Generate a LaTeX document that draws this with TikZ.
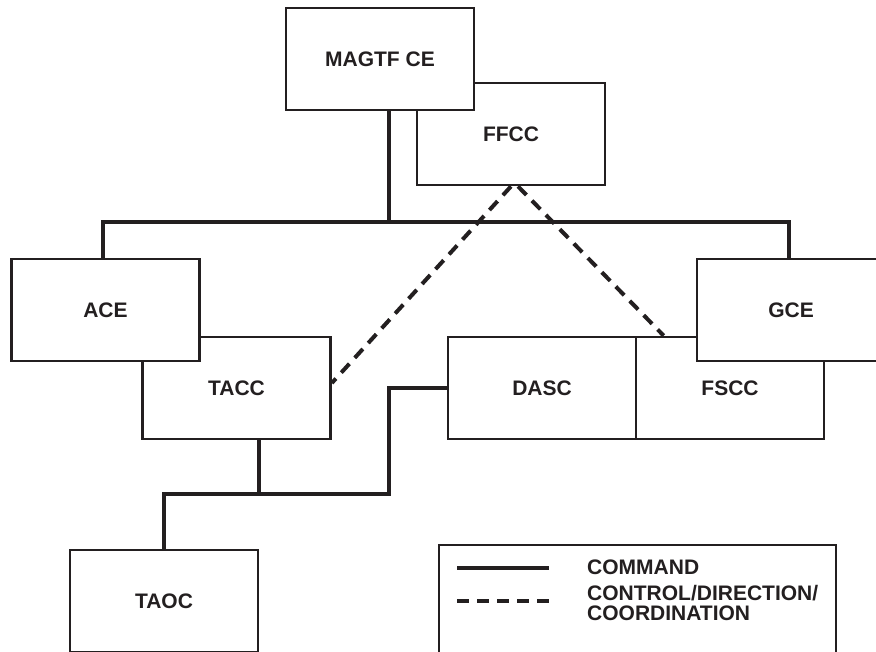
\documentclass[tikz,border=0pt]{standalone}
\usepackage{fontspec}
\setmainfont{Liberation Sans}
\usetikzlibrary{calc}
\definecolor{ink}{RGB}{35,31,32}
\begin{document}
\begin{tikzpicture}[x=1pt,y=-1pt,
  box/.style={draw=ink, fill=white, line width=2.7pt, rectangle,
    minimum width=188pt, minimum height=102pt, inner sep=0pt,
    font=\fontsize{21}{20}\selectfont\bfseries, text=ink},
  cmd/.style={draw=ink, line width=4pt},
  ctl/.style={draw=ink, line width=4pt, dash pattern=on 12pt off 8pt},
  lbl/.style={font=\fontsize{21}{20}\selectfont\bfseries, text=ink, inner sep=0pt, anchor=west, align=left}]
\useasboundingbox (0,0) rectangle (876,651);
\fill[white] (0,0) rectangle (876,651);

% boxes
\node[box] (ffcc) at (511,134) {FFCC};
\node[box] (magtf) at (380,59) {MAGTF CE};
\node[box] (tacc) at (236.5,388) {TACC};
\node[box] (ace) at (105.5,310) {ACE};
\node[box] (dasc) at (542,388) {DASC};
\node[box] (fscc) at (730,388) {FSCC};
\node[box] (gce) at (791,310) {GCE};
\node[box] (taoc) at (164,601) {TAOC};

% command bus
\coordinate (busL) at (103,222);
\coordinate (busM) at (389,222);
\coordinate (busR) at (789,222);
\draw[cmd] (magtf.south -| busM) -- (busM);
\draw[cmd] (ace.north -| busL) |- (busR) -- (gce.north -| busR);

% lower command lines
\coordinate (jL) at (164,494);
\coordinate (jT) at (259,494);
\coordinate (jR) at (389,494);
\draw[cmd] (tacc.south -| jT) -- (jT);
\draw[cmd] (taoc.north) -- (jL) -- (jR) |- (dasc.west);

% control lines
\draw[ctl] (ffcc.south) -- ($(tacc.east)+(0,-5)$);
\draw[ctl] ($(ffcc.south)+(7,0)$) -- ($(fscc.north west)+(29,0)$);

% legend
\node[draw=ink, line width=2.7pt, rectangle, minimum width=397pt, minimum height=120pt, inner sep=0pt] (legend) at (637.5,605) {};
\coordinate (l1a) at (457,568);
\coordinate (l1b) at (549,568);
\coordinate (l2a) at (457,601);
\coordinate (l2b) at (549,601);
\draw[draw=ink, line width=4pt] (l1a) -- (l1b);
\draw[ctl] (l2a) -- (l2b);
\node[lbl] (tcmd) at (587,567) {COMMAND};
\node[lbl] (tctl) at (587,603) {CONTROL/DIRECTION/\\COORDINATION};
\end{tikzpicture}
\end{document}
